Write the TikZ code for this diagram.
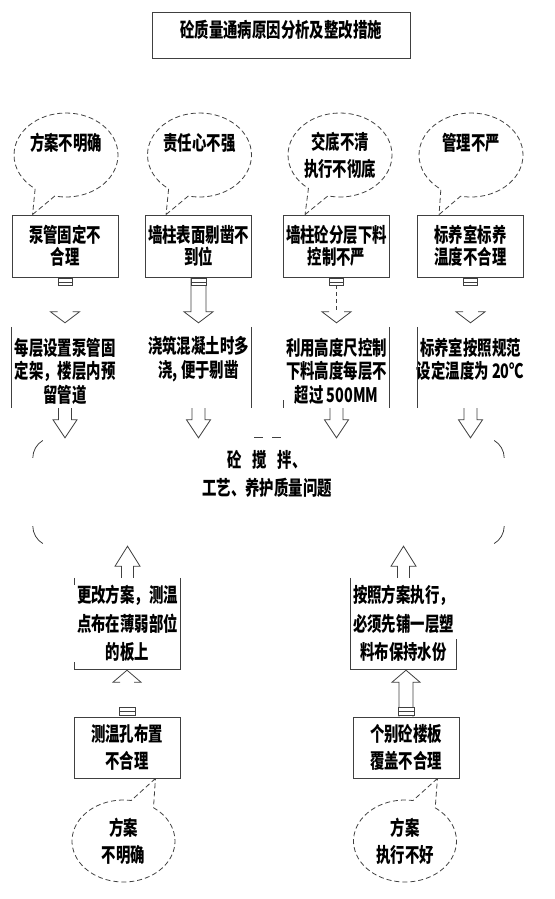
\documentclass[tikz,border=0pt]{standalone}
\usepackage{fontspec}
\newfontfamily\cjk{Noto Sans CJK SC}[FakeStretch=0.72]
\usetikzlibrary{shapes.callouts,calc}
\newcommand\arrdn[5]{\draw[arr] ($(#1)+(-#3,0)$) -- ($(#2)+(-#3,-#5)$) -- ($(#2)+(-#4,-#5)$) -- (#2) -- ($(#2)+(#4,-#5)$) -- ($(#2)+(#3,-#5)$) -- ($(#1)+(#3,0)$);}
\newcommand\arrup[5]{\draw[arr] ($(#1)+(-#3,0)$) -- ($(#2)+(-#3,#5)$) -- ($(#2)+(-#4,#5)$) -- (#2) -- ($(#2)+(#4,#5)$) -- ($(#2)+(#3,#5)$) -- ($(#1)+(#3,0)$);}
\newcommand\headdn[4]{\draw[arr] ($(#1)+(-#2,-#4)$) -- ($(#1)+(-#3,-#4)$) -- (#1) -- ($(#1)+(#3,-#4)$) -- ($(#1)+(#2,-#4)$);}
\newcommand\headup[4]{\draw[arr] ($(#1)+(-#2,#4)$) -- ($(#1)+(-#3,#4)$) -- (#1) -- ($(#1)+(#3,#4)$) -- ($(#1)+(#2,#4)$);}
\newcommand\stubdn[2]{\draw[arr,fill=white] ($(#1)+(-#2,1)$) rectangle ($(#1)+(#2,8)$); \draw[arr] ($(#1)+(-#2,4.5)$) -- ($(#1)+(#2,4.5)$);}
\newcommand\stubup[2]{\draw[arr,fill=white] ($(#1)+(-#2,-1)$) rectangle ($(#1)+(#2,-9)$); \draw[arr] ($(#1)+(-#2,-5)$) -- ($(#1)+(#2,-5)$);}
\begin{document}
\begin{tikzpicture}[x=1pt,y=-1pt,
  txt/.style={font=\cjk\bfseries\fontsize{20}{22}\selectfont, align=center, inner sep=0pt},
  txtb/.style={font=\cjk\bfseries\fontsize{20}{23.5}\selectfont},
  txtc/.style={font=\cjk\bfseries\fontsize{20}{27}\selectfont},
  txtd/.style={font=\cjk\bfseries\fontsize{20}{28.5}\selectfont},
  box/.style={draw=black!75, line width=0.9pt, minimum width=106pt, minimum height=62pt, txt},
  frame/.style={minimum width=106pt, minimum height=81pt, inner sep=0pt},
  bubble/.style={ellipse callout, draw=black!75, line width=0.8pt, dash pattern=on 5pt off 3pt, minimum width=104pt, minimum height=84pt, callout pointer arc=24, txt, txtc},
  arr/.style={draw=black!75, line width=0.8pt},
  side/.style={draw=black!75, line width=0.9pt}]
\useasboundingbox (0,0) rectangle (554,899);
% title
\node[draw=black!75, line width=0.9pt, minimum width=258pt, minimum height=46pt, inner sep=0pt] (title) at (281,35) {};
\node[txt] (titletext) at (281,30) {砼质量通病原因分析及整改措施};
% cause boxes
\node[box] (c1) at (65,246) {泵管固定不\\合理};
\node[box] (c2) at (198.5,246) {墙柱表面剔凿不\\到位};
\node[box] (c3) at (336.5,246) {墙柱砼分层下料\\控制不严};
\node[box] (c4) at (470.5,246) {标养室标养\\温度不合理};
% callouts
\node[bubble, callout absolute pointer={($(c1.north west)+(21,0)$)}] (e1) at (66,155) {方案不明确\\\mbox{}};
\node[bubble, callout absolute pointer={($(c2.north west)+(21,0)$)}] (e2) at (199.5,155) {责任心不强\\\mbox{}};
\node[bubble, callout absolute pointer={($(c3.north west)+(22,0)$)}] (e3) at (340,155) {交底不清\\执行不彻底};
\node[bubble, callout absolute pointer={($(c4.north west)+(22,0)$)}] (e4) at (471,155) {管理不严\\\mbox{}};
% measure frames and texts
\node[frame] (m1) at (65,367.5) {};
\node[frame] (m2) at (198.5,367.5) {};
\node[frame] (m3) at (336.5,367.5) {};
\node[frame] (m4) at (470.5,367.5) {};
\node[txt,txtb] (m1t) at (65,371) {每层设置泵管固\\定架，楼层内预\\留管道};
\node[txt,txtb] (m2t) at (198.5,359) {浇筑混凝土时多\\浇, 便于剔凿};
\node[txt,txtb] (m3t) at (336.5,371) {利用高度尺控制\\下料高度每层不\\超过 500MM};
\node[txt,txtb] (m4t) at (470.5,359) {标养室按照规范\\设定温度为 20℃};
\draw[side] (m1.north west) -- (m1.south west);
\draw[side] (m2.north east) -- (m2.south east);
\draw[side] (m3.north east) -- (m3.south east);
\draw[side] ($(m3.south west)+(0,-8)$) -- (m3.south west);
\draw[side] (m4.north west) -- (m4.south west);
% arrows cause -> measure
\coordinate (t1) at ($(m1.north)+(0,-4)$);
\coordinate (t2) at ($(m2.north)+(0,-4)$);
\coordinate (t3) at ($(m3.north)+(0,-4)$);
\coordinate (t4) at ($(m4.north)+(0,-4)$);
\headdn{t1}{7.5}{14.5}{11}
\stubdn{c1.south}{7}
\arrdn{c2.south}{t2}{7.5}{14.5}{11}
\stubdn{c2.south}{7.5}
\draw[arr,dash pattern=on 4pt off 3pt] ($(c3.south)+(0,8)$) -- ($(t3)+(0,-11)$);
\headdn{t3}{7.5}{14.5}{11}
\stubdn{c3.south}{7}
\headdn{t4}{7.5}{14.5}{11}
\stubdn{c4.south}{7}
% cloud
\node[minimum width=471pt, minimum height=108pt, inner sep=0pt] (cloud) at (268.5,492) {};
\node[txt,txtd] (cloudtext) at (267,474) {砼\hspace{11pt}搅\hspace{11pt}拌、\\工艺、养护质量问题};
\draw[arr] ($(cloud.north west)+(0,20)$) .. controls ($(cloud.north west)+(0,13)$) and ($(cloud.north west)+(4,6)$) .. ($(cloud.north west)+(10,2.7)$);
\draw[arr] ($(cloud.north east)+(0,20)$) .. controls ($(cloud.north east)+(0,13)$) and ($(cloud.north east)+(-4,6)$) .. ($(cloud.north east)+(-10,2.7)$);
\draw[arr] ($(cloud.south west)+(0,-20)$) .. controls ($(cloud.south west)+(0,-13)$) and ($(cloud.south west)+(4,-6)$) .. ($(cloud.south west)+(10,-2.7)$);
\draw[arr] ($(cloud.south east)+(0,-20)$) .. controls ($(cloud.south east)+(0,-13)$) and ($(cloud.south east)+(-4,-6)$) .. ($(cloud.south east)+(-10,-2.7)$);
\draw[arr] ($(cloud.north)+(-14.5,0)$) -- ++(9,0);
\draw[arr] ($(cloud.north)+(3.5,0)$) -- ++(9,0);
% arrows measure -> cloud
\coordinate (u1) at (m1.south |- cloud.north);
\coordinate (u2) at (m2.south |- cloud.north);
\coordinate (u3) at (m3.south |- cloud.north);
\coordinate (u4) at (m4.south |- cloud.north);
\arrdn{m1.south}{u1}{6.5}{12}{18}
\arrdn{m2.south}{u2}{6.5}{12}{18}
\arrdn{m3.south}{u3}{6.5}{12}{18}
\arrdn{m4.south}{u4}{6.5}{12}{18}
% bottom measures
\node[frame, minimum width=105pt, minimum height=91pt] (bm1) at (127.5,623.5) {};
\node[frame, minimum width=105pt, minimum height=91pt] (bm2) at (403.5,623.5) {};
\node[txt,txtd] (bm1t) at (127.5,623.5) {更改方案，测温\\点布在薄弱部位\\的板上};
\node[txt,txtd] (bm2t) at (403.5,623.5) {按照方案执行，\\必须先铺一层塑\\料布保持水份};
\draw[side] (bm1.north east) -- (bm1.south east) -- (bm1.south west) -- ++(0,-7);
\draw[side] (bm1.north west) -- ++(0,7);
\draw[side] (bm2.north west) -- (bm2.south west) -- (bm2.south east) -- ++(0,-30);
% bottom causes
\node[box, txtc, minimum height=61pt] (bc1) at (127,747.5) {测温孔布置\\不合理};
\node[box, txtc, minimum height=61pt] (bc2) at (406,747.5) {个别砼楼板\\覆盖不合理};
\node[bubble, minimum width=103pt, minimum height=82pt, callout pointer arc=27, callout absolute pointer={($(bc1.south east)+(-25,0)$)}] (be1) at (123.5,841) {方案\\不明确};
\node[bubble, minimum width=103pt, minimum height=82pt, callout pointer arc=27, callout absolute pointer={($(bc2.south east)+(-22,0)$)}] (be2) at (405,841) {方案\\执行不好};
% arrows bottom
\coordinate (v1) at (bm1.north |- cloud.south);
\coordinate (v2) at (bm2.north |- cloud.south);
\arrup{bm1.north}{v1}{6}{12.5}{20}
\arrup{bm2.north}{v2}{6}{12.5}{20}
\coordinate (w1) at ($(bc1.north |- bm1.south)+(0,1)$);
\coordinate (w2) at ($(bc2.north |- bm2.south)+(0,1)$);
\headup{w1}{7}{14}{12}
\stubup{bc1.north}{8}
\arrup{bc2.north}{w2}{7}{14}{12}
\stubup{bc2.north}{8}
\end{tikzpicture}
\end{document}
